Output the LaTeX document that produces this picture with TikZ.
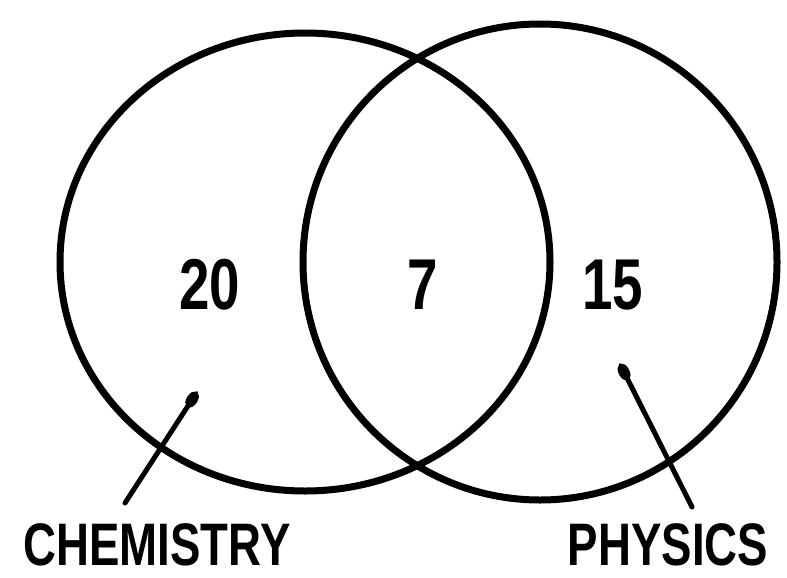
\documentclass[tikz,border=0pt]{standalone}
\usepackage{fontspec}
\setmainfont{Liberation Sans}
\usetikzlibrary{arrows.meta}
\tikzset{
  ring/.style={line width=7pt},
  pointer/.style={line width=5pt, line cap=round, -{Ellipse[length=18pt,width=11pt]}},
  num/.style={font=\fontsize{72}{72}\selectfont\bfseries, inner sep=0pt},
  lbl/.style={font=\fontsize{60}{60}\selectfont\bfseries, inner sep=0pt, anchor=base}
}
\newcommand{\nrw}[1]{\scalebox{0.76}[1]{#1}}
\begin{document}
\begin{tikzpicture}[x=1pt,y=-1pt]
\useasboundingbox (0,0) rectangle (787,578);
\draw[ring] (305,262) ellipse [x radius=245, y radius=229];
\draw[ring] (540,262) ellipse [x radius=237, y radius=238];
\node[num] (n20) at (210,285) {\nrw{20}};
\node[num] (n7) at (423,285) {\nrw{7}};
\node[num] (n15) at (613,285) {\nrw{15}};
\node[lbl] (chem) at (157,565) {\nrw{CHEMISTRY}};
\node[lbl] (phys) at (668,565) {\nrw{PHYSICS}};
\coordinate (cend) at (197,392);
\coordinate (pend) at (620,364);
\coordinate (cstart) at (125,503);
\coordinate (pstart) at (692,507);
\draw[pointer] (cstart) -- (cend);
\draw[pointer] (pstart) -- (pend);
\end{tikzpicture}
\end{document}
